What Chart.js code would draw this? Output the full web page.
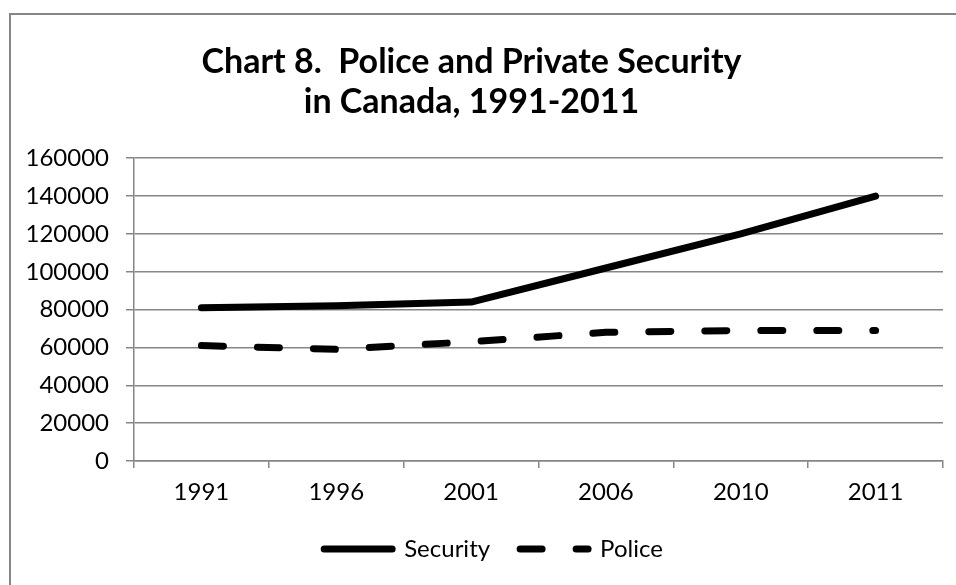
<!DOCTYPE html>
<html>
<head>
<meta charset="utf-8">
<script src="https://cdn.jsdelivr.net/npm/chart.js@4"></script>
<style>
  html, body { margin: 0; padding: 0; background: #fff; }
  #wrap { width: 956px; height: 585px; }
</style>
</head>
<body>
<div id="wrap"><canvas id="myChart" width="956" height="585"></canvas></div>
<script>
let years = ['1991', '1996', '2001', '2006', '2010', '2011'];
let security = [81000, 82000, 84000, 102000, 120000, 140000];
let police = [61000, 59000, 63000, 68000, 69000, 69000];
let titleLines = ['Chart 8.  Police and Private Security', 'in Canada, 1991-2011'];

let gray = '#868686';
let fontFamily = 'Lato, "Open Sans", sans-serif';

// outer frame around the whole chart
const frame = {
  id: 'frame',
  beforeDraw(chart) {
    const ctx = chart.ctx;
    ctx.save();
    ctx.fillStyle = '#fff';
    ctx.fillRect(0, 0, chart.width, chart.height);
    ctx.strokeStyle = gray;
    ctx.lineWidth = 2;
    ctx.strokeRect(10, 14, chart.width + 20, chart.height + 20);
    ctx.restore();
  }
};

// nudge the legend a little to the right of the canvas centre
const legendShift = {
  id: 'legendShift',
  afterLayout(chart) {
    chart.legend.left += 22;
    chart.legend.right += 22;
  }
};

function renderChart() {
  const ctx = document.getElementById('myChart');
  new Chart(ctx, {
    type: 'line',
    data: {
      labels: years,
      datasets: [
        {
          label: 'Security',
          data: security,
          borderColor: '#000',
          backgroundColor: '#000',
          borderWidth: 7,
          borderCapStyle: 'round',
          borderJoinStyle: 'round',
          pointRadius: 0,
          tension: 0,
        },
        {
          label: 'Police',
          data: police,
          borderColor: '#000',
          backgroundColor: '#000',
          borderWidth: 7,
          borderDash: [22, 34],
          borderCapStyle: 'round',
          borderJoinStyle: 'round',
          pointRadius: 0,
          tension: 0,
        },
      ],
    },
    plugins: [frame, legendShift],
    options: {
      responsive: false,
      animation: false,
      devicePixelRatio: 1,
      layout: { padding: { left: 0, right: 13, top: 0, bottom: 14 } },
      plugins: {
        title: {
          display: true,
          text: titleLines,
          color: '#000',
          font: { family: fontFamily, size: 34, weight: 'bold', lineHeight: 1.18 },
          padding: { top: 42, bottom: 36 },
        },
        legend: {
          position: 'bottom',
          labels: {
            color: '#000',
            font: { family: fontFamily, size: 24 },
            usePointStyle: true,
            pointStyleWidth: 68,
            padding: 30,
            generateLabels: (chart) =>
              chart.data.datasets.map((ds, i) => ({
                text: ds.label,
                fillStyle: '#000',
                strokeStyle: '#000',
                lineWidth: 7,
                lineDash: ds.borderDash || [],
                lineCap: 'round',
                pointStyle: 'line',
                hidden: false,
                datasetIndex: i,
              })),
          },
        },
        tooltip: { enabled: false },
      },
      scales: {
        x: {
          offset: true,
          afterFit: (scale) => { scale.height = 46; },
          grid: {
            offset: true,
            drawOnChartArea: false,
            drawTicks: true,
            tickLength: 7,
            color: gray,
            lineWidth: 1.5,
          },
          border: { color: gray, width: 1.5 },
          ticks: {
            color: '#000',
            font: { family: fontFamily, size: 24 },
            padding: 10,
            maxRotation: 0,
          },
        },
        y: {
          min: 0,
          max: 160000,
          afterFit: (scale) => { scale.width = 134; },
          grid: {
            color: gray,
            lineWidth: 1.5,
            drawTicks: true,
            tickLength: 8,
          },
          border: { color: gray, width: 1.5 },
          ticks: {
            stepSize: 20000,
            color: '#000',
            font: { family: fontFamily, size: 24 },
            padding: 17,
            callback: (v) => String(v),
          },
        },
      },
    },
  });
}

renderChart();
</script>
</body>
</html>
